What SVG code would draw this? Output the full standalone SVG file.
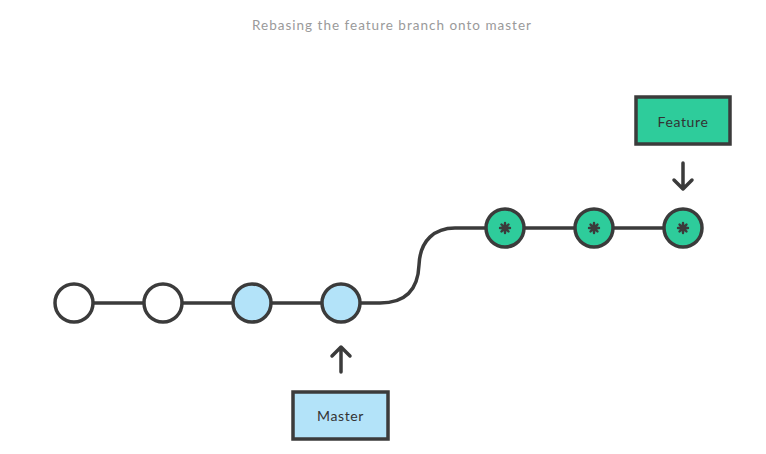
<svg xmlns="http://www.w3.org/2000/svg" width="766" height="454" viewBox="0 0 766 454">
<style>
.ln{fill:none;stroke:#3b3b3b;stroke-width:3.5;stroke-linecap:round;stroke-linejoin:round}
.c{stroke:#3b3b3b;stroke-width:3.5}
.w{fill:#ffffff}
.b{fill:#b3e3f9}
.g{fill:#2ecc9b}
.lbl{font-family:"Lato","Liberation Sans",sans-serif;font-size:14px;fill:#333;text-anchor:middle;letter-spacing:0.6px}
.ttl{font-family:"Lato","Liberation Sans",sans-serif;font-size:13.5px;fill:#9a9a9a;text-anchor:middle;letter-spacing:1px}
</style>
<defs>
<g id="star">
<circle r="3.6" fill="#3b3b3b"/>
<g stroke="#3b3b3b" stroke-width="2.4" stroke-linecap="round">
<line x1="0" y1="-5" x2="0" y2="5"/>
<line x1="-5" y1="0" x2="5" y2="0"/>
<line x1="-3.5" y1="-3.5" x2="3.5" y2="3.5"/>
<line x1="-3.5" y1="3.5" x2="3.5" y2="-3.5"/>
</g>
</g>
</defs>
<rect width="766" height="454" fill="#ffffff"/>
<text class="ttl" x="392" y="30">Rebasing the feature branch onto master</text>
<g id="connectors">
<path class="ln" d="M74,303 H341"/>
<path class="ln" d="M341,303 H380 C405,303 418,290 419,265 C420,240 435,228 455,228 H683"/>
<path class="ln" d="M341,372 V347 M332,356 L341,347 L350,356"/>
<path class="ln" d="M683,163 V189 M674,180 L683,189 L692,180"/>
</g>
<g id="c1"><circle class="c w" cx="74" cy="303" r="19"/></g>
<g id="c2"><circle class="c w" cx="163" cy="303" r="19"/></g>
<g id="c3"><circle class="c b" cx="252" cy="303" r="19"/></g>
<g id="c4"><circle class="c b" cx="341" cy="303" r="19"/></g>
<g id="f1"><circle class="c g" cx="505" cy="228" r="19"/><use href="#star" x="505" y="228"/></g>
<g id="f2"><circle class="c g" cx="594" cy="228" r="19"/><use href="#star" x="594" y="228"/></g>
<g id="f3"><circle class="c g" cx="683" cy="228" r="19"/><use href="#star" x="683" y="228"/></g>
<g id="feature"><rect class="c g" x="636" y="97" width="94" height="47"/><text class="lbl" x="683" y="127">Feature</text></g>
<g id="master"><rect class="c b" x="293" y="392" width="95" height="47"/><text class="lbl" x="340.5" y="421">Master</text></g>
</svg>
